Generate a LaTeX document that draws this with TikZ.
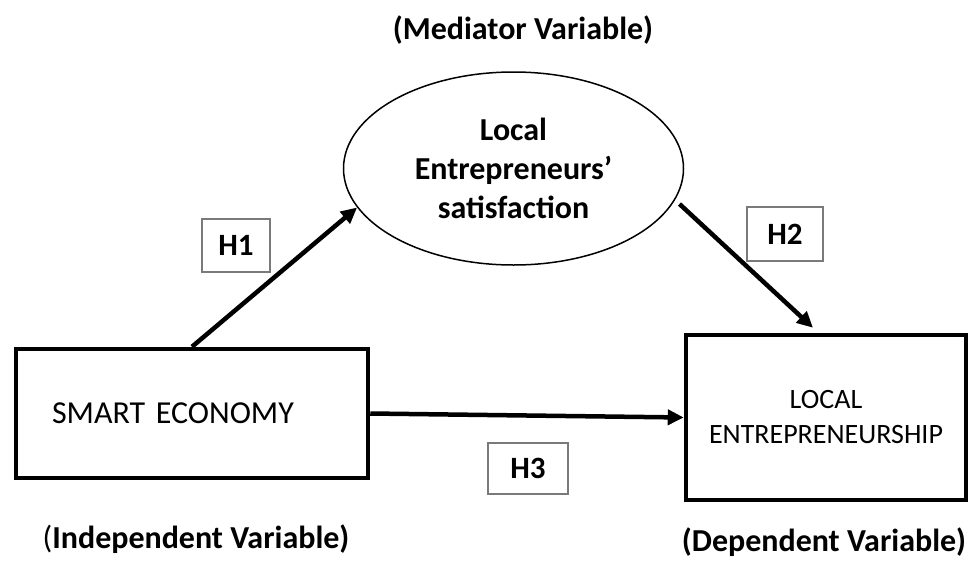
\documentclass[tikz,border=0pt]{standalone}
\usepackage{fontspec}
\setmainfont{Carlito}
\usetikzlibrary{arrows.meta,shapes.geometric}
\definecolor{ink}{HTML}{000000}
\definecolor{hrule}{HTML}{7A7A7A}

\begin{document}
\begin{tikzpicture}[
    x=1pt, y=-1pt,
    font=\fontsize{32}{39}\selectfont,
    varbox/.style={draw=ink, line width=4.5pt, inner sep=0pt},
    medvar/.style={ellipse, draw=ink, line width=1.5pt, inner sep=0pt,
                   minimum width=340pt, minimum height=193pt,
                   align=center, font=\fontsize{32}{39}\selectfont\bfseries},
    hyp/.style={draw=hrule, line width=1.2pt, inner sep=0pt,
                font=\fontsize{31}{36}\selectfont\bfseries},
    role/.style={font=\fontsize{32}{39}\selectfont\bfseries},
    path/.style={draw=ink, line width=4.5pt,
                 -{Triangle[length=16pt,width=15pt]}},
  ]
\useasboundingbox (0,0) rectangle (975,560);

% variables
\node[varbox, minimum width=352pt, minimum height=129pt,
      inner xsep=36pt, text width=280pt, align=left] (smart) at (192,413.5)
  {SMART ECONOMY};

\node[varbox, minimum width=280pt, minimum height=165pt, align=center,
      font=\fontsize{28}{35}\selectfont] (entre) at (826,417.5)
  {LOCAL\\ENTREPRENEURSHIP};

\node[medvar] (med) at (513.5,168.5)
  {Local\\Entrepreneurs’\\satisfaction};

% roles
\node[role] (medlbl) at (523,30) {(Mediator Variable)};
\node[role] (indlbl) at (196,539) {\textmd{(}Independent Variable)};
\node[role] (deplbl) at (824,542) {(Dependent Variable)};

% hypotheses
\node[hyp, minimum width=68pt, minimum height=53pt] (h1) at (236,245.5) {H1};
\node[hyp, minimum width=76pt, minimum height=54pt] (h2) at (785,234) {H2};
\node[hyp, minimum width=80pt, minimum height=51pt] (h3) at (528,468.5) {H3};

% paths
\draw[path] (smart.north) -- (med.194);
\draw[path, shorten <=6pt] (med.-11) -- ([xshift=-13pt,yshift=5pt]entre.north);
\draw[path] (smart.east) -- (entre.west);

\end{tikzpicture}
\end{document}
